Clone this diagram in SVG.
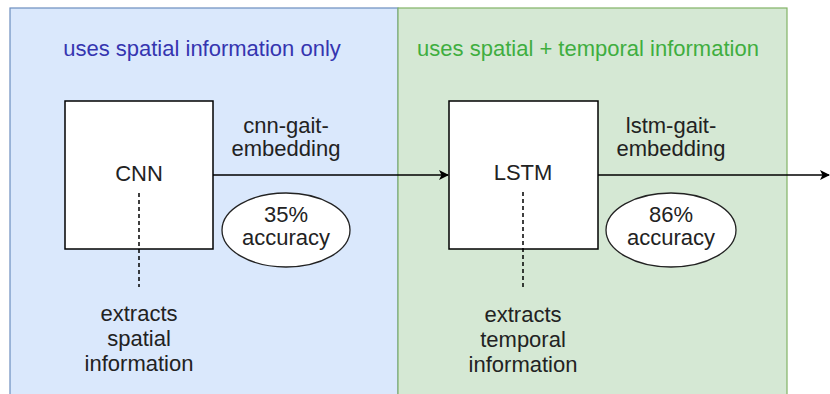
<svg xmlns="http://www.w3.org/2000/svg" width="830" height="394" viewBox="0 0 830 394">
  <style>
    text { font-family: "Liberation Sans", Arial, sans-serif; font-size: 22px; fill: #222222; text-anchor: middle; }
    .box { fill: #ffffff; stroke: #000000; stroke-width: 1.5; }
    .oval { fill: #ffffff; stroke: #222222; stroke-width: 1.3; }
    .flow { fill: none; stroke: #000000; stroke-width: 1.5; }
    .dash { fill: none; stroke: #000000; stroke-width: 1.5; stroke-dasharray: 4 3; }
  </style>
  <defs>
    <marker id="arrow" viewBox="0 0 10 10" refX="9" refY="5" markerWidth="10" markerHeight="10" markerUnits="userSpaceOnUse" orient="auto">
      <path d="M0,0 L10,5 L0,10 L2.5,5 Z" fill="#000000"/>
    </marker>
  </defs>

  <rect width="830" height="394" fill="#ffffff"/>

  <!-- zones -->
  <g id="zone-spatial">
    <rect x="10" y="8" width="388" height="400" fill="#dae8fc" stroke="#6c8ebf" stroke-width="1.2"/>
    <text x="202" y="56" style="fill:#3535b0">uses spatial information only</text>
  </g>
  <g id="zone-temporal">
    <rect x="398" y="8" width="389" height="400" fill="#d5e8d4" stroke="#82b366" stroke-width="1.2"/>
    <text x="588" y="56" style="fill:#3fae3f">uses spatial + temporal information</text>
  </g>

  <!-- nodes -->
  <g id="cnn">
    <rect class="box" x="65" y="101" width="148" height="148"/>
    <text x="139" y="181">CNN</text>
  </g>
  <g id="lstm">
    <rect class="box" x="449" y="101" width="149" height="148"/>
    <text x="523" y="180">LSTM</text>
  </g>

  <g id="cnn-embedding-label">
    <text x="286" y="133">cnn-gait-</text>
    <text x="286" y="156">embedding</text>
  </g>
  <g id="lstm-embedding-label">
    <text x="671" y="133">lstm-gait-</text>
    <text x="671" y="156">embedding</text>
  </g>

  <g id="cnn-accuracy">
    <ellipse class="oval" cx="286" cy="230" rx="64" ry="37"/>
    <text x="286" y="222">35%</text>
    <text x="286" y="245">accuracy</text>
  </g>
  <g id="lstm-accuracy">
    <ellipse class="oval" cx="671" cy="230" rx="65" ry="37"/>
    <text x="671" y="222">86%</text>
    <text x="671" y="245">accuracy</text>
  </g>

  <g id="cnn-note">
    <text x="139" y="321">extracts</text>
    <text x="139" y="346">spatial</text>
    <text x="139" y="371">information</text>
  </g>
  <g id="lstm-note">
    <text x="523" y="322">extracts</text>
    <text x="523" y="347">temporal</text>
    <text x="523" y="372">information</text>
  </g>

  <!-- connectors (drawn over the boxes) -->
  <g id="connectors">
    <line class="flow" x1="213" y1="175" x2="448" y2="175" marker-end="url(#arrow)"/>
    <line class="flow" x1="598" y1="175" x2="829" y2="175" marker-end="url(#arrow)"/>
    <line class="dash" x1="139" y1="193" x2="139" y2="287"/>
    <line class="dash" x1="523" y1="192" x2="523" y2="287"/>
  </g>
</svg>
